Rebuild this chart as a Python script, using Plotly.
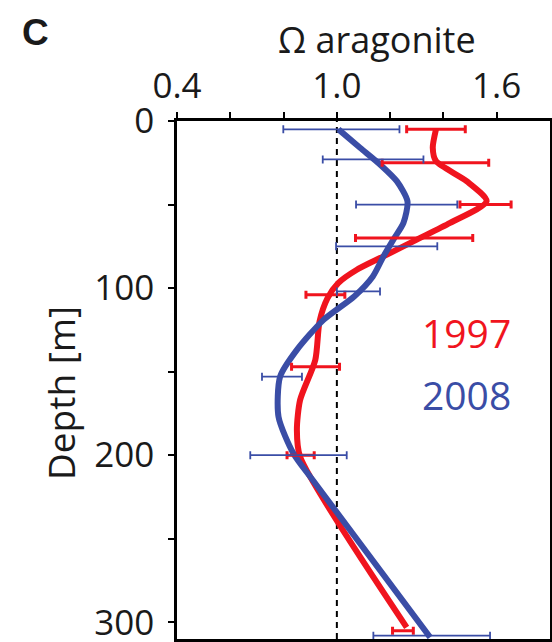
import plotly.graph_objects as go

# ---- data ----
# error-bar samples: depth [m], mean Omega, half-width
red_depth = [5, 25, 50, 70, 104, 147, 200, 305]
red_mean = [1.372, 1.370, 1.558, 1.290, 0.957, 0.920, 0.864, 1.248]
red_err = [0.110, 0.200, 0.096, 0.220, 0.073, 0.090, 0.051, 0.039]

blue_depth = [5, 23, 50, 75, 102, 153, 200, 308]
blue_mean = [1.017, 1.136, 1.262, 1.187, 1.081, 0.794, 0.856, 1.356]
blue_err = [0.218, 0.189, 0.190, 0.190, 0.081, 0.075, 0.181, 0.219]

# smoothed profiles
red_curve_depth = [5, 16, 24, 36, 48, 61, 71, 81, 89, 97, 106, 120, 143, 167, 185, 201, 303]
red_curve_val = [1.372, 1.360, 1.372, 1.487, 1.562, 1.425, 1.300, 1.175, 1.075, 1.005,
                 0.965, 0.935, 0.919, 0.862, 0.850, 0.862, 1.262]

blue_curve_depth = [5, 16, 26, 36, 48, 61, 71, 81, 93, 105, 119, 137, 153, 177, 199, 215, 309]
blue_curve_val = [1.006, 1.087, 1.162, 1.225, 1.265, 1.250, 1.212, 1.175, 1.135, 1.065,
                  0.950, 0.850, 0.787, 0.781, 0.837, 0.910, 1.350]

x_ticks = [0.4, 1.0, 1.6]
x_tick_text = ["0.4", "1.0", "1.6"]
x_minor = [0.6, 0.8, 1.2, 1.4]
y_ticks = [0, 100, 200, 300]
y_minor = [50, 150, 250]
reference_omega = 1.0

RED = "#f0141e"
BLUE = "#3a4da6"
TXT = "#1a1a1a"
FONT = "Open Sans"

W, H = 552, 642
ML, MR, MT, MB = 177, 2, 121, 3

fig = go.Figure()

fig.add_trace(go.Scatter(x=red_curve_val, y=red_curve_depth, mode="lines",
                         line=dict(color=RED, width=6, shape="spline", smoothing=0.7),
                         hoverinfo="skip", showlegend=False))
fig.add_trace(go.Scatter(x=blue_curve_val, y=blue_curve_depth, mode="lines",
                         line=dict(color=BLUE, width=6, shape="spline", smoothing=0.7),
                         hoverinfo="skip", showlegend=False))

fig.add_trace(go.Scatter(x=red_mean, y=red_depth, mode="markers",
                         marker=dict(size=1, color=RED, opacity=0),
                         error_x=dict(type="data", array=red_err, visible=True,
                                      color=RED, thickness=3, width=4),
                         showlegend=False))
fig.add_trace(go.Scatter(x=blue_mean, y=blue_depth, mode="markers",
                         marker=dict(size=1, color=BLUE, opacity=0),
                         error_x=dict(type="data", array=blue_err, visible=True,
                                      color=BLUE, thickness=1.8, width=4),
                         showlegend=False))

fig.add_shape(type="line", x0=reference_omega, x1=reference_omega, y0=0, y1=1,
              xref="x", yref="paper",
              line=dict(color="black", width=2, dash="6px,5px"), layer="below")

axis_common = dict(ticks="outside", ticklen=6, tickwidth=2, tickcolor="black",
                   showline=True, linecolor="black", linewidth=2.5, mirror=True,
                   showgrid=False, zeroline=False, automargin=False,
                   ticklabeloverflow="allow",
                   tickfont=dict(family=FONT, size=35, color=TXT))

fig.update_layout(
    width=W, height=H,
    margin=dict(l=ML, r=MR, t=MT, b=MB, autoexpand=False),
    paper_bgcolor="white", plot_bgcolor="white",
    font=dict(family=FONT, color=TXT, size=35),
    xaxis=dict(side="top", range=[0.4, 1.8], tickvals=x_ticks, ticktext=x_tick_text,
               minor=dict(tickvals=x_minor, ticks="outside", ticklen=6, tickwidth=2,
                          tickcolor="black"),
               ticklabelstandoff=0, **axis_common),
    yaxis=dict(range=[310, 0], tickvals=y_ticks,
               minor=dict(tickvals=y_minor, ticks="outside", ticklen=6, tickwidth=2,
                          tickcolor="black"),
               ticklabelstandoff=7, **axis_common),
)

annots = [
    dict(text="<b>C</b>", x=35, y=32, font=dict(family="Liberation Sans", size=37, color=TXT)),
    dict(text="Ω aragonite", x=377, y=39, font=dict(family=FONT, size=36, color=TXT)),
    dict(text="Depth [m]", x=60, y=393, font=dict(family=FONT, size=37, color=TXT), textangle=-90),
    dict(text="1997", x=466, y=332, font=dict(family=FONT, size=39, color=RED)),
    dict(text="2008", x=466, y=394, font=dict(family=FONT, size=39, color=BLUE)),
]
pw = W - ML - MR
ph = H - MT - MB
for a in annots:
    px, py = a.pop("x"), a.pop("y")   # pixel position from top-left of figure
    xp = (px - ML) / pw
    yp = (H - MB - py) / ph
    fig.add_annotation(x=xp, y=yp, xref="paper", yref="paper", showarrow=False,
                       xanchor="center", yanchor="middle", **a)

fig.write_html("out.html", config={"displayModeBar": False},
               post_script="document.body.style.margin='0';document.body.style.overflow='hidden';")
